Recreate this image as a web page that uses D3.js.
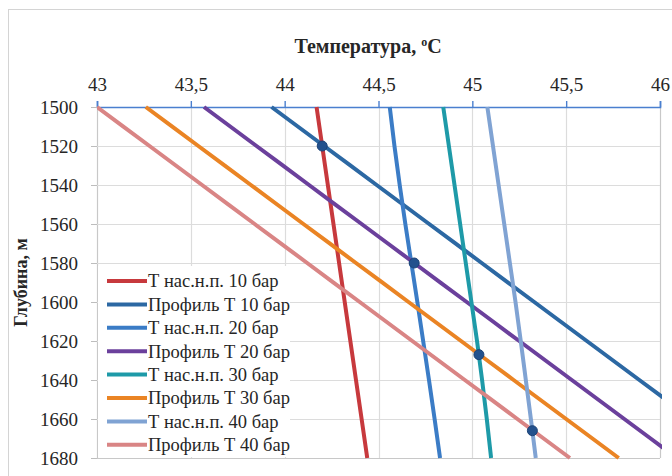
<!DOCTYPE html>
<html>
<head>
<meta charset="utf-8">
<script src="https://cdn.jsdelivr.net/npm/d3@7"></script>
<style>
  html, body { margin: 0; padding: 0; background: #fff; }
  svg { display: block; }
  svg text { font-family: "Liberation Serif", "Times New Roman", Times, "DejaVu Serif", serif; fill: #262626; }
</style>
</head>
<body>
<svg id="chart" width="672" height="476"></svg>
<script>
// Depth stations, m
const depths = [1500, 1520, 1540, 1560, 1580, 1600, 1620, 1640, 1660, 1680];

// Saturation temperature (Т нас.н.п.) for each pressure, °C
const tSat10 = [44.17, 44.20, 44.23, 44.26, 44.29, 44.32, 44.35, 44.38, 44.41, 44.44];
const tSat20 = [44.560, 44.585, 44.613, 44.643, 44.675, 44.707, 44.738, 44.769, 44.799, 44.828];
const tSat30 = [44.845, 44.875, 44.905, 44.935, 44.965, 44.995, 45.025, 45.052, 45.077, 45.100];
const tSat40 = [45.080, 45.110, 45.140, 45.170, 45.200, 45.230, 45.258, 45.285, 45.312, 45.338];

// Temperature profiles for each pressure, °C
const prof10 = [43.93, 44.21, 44.49, 44.77, 45.05, 45.33, 45.61, 45.89, 46.17, 46.45];
const prof20 = [43.57, 43.85, 44.13, 44.41, 44.69, 44.97, 45.25, 45.53, 45.81, 46.09];
const prof30 = [43.26, 43.54, 43.82, 44.10, 44.38, 44.66, 44.94, 45.22, 45.50, 45.78];
const prof40 = [43.00, 43.28, 43.56, 43.84, 44.12, 44.40, 44.68, 44.96, 45.24, 45.52];

// Intersection points of profiles with saturation curves
const crossT = [44.20, 44.69, 45.035, 45.32];
const crossD = [1520, 1580, 1627, 1666];

const seriesNames = [
  "Т нас.н.п. 10 бар", "Профиль Т 10 бар",
  "Т нас.н.п. 20 бар", "Профиль Т 20 бар",
  "Т нас.н.п. 30 бар", "Профиль Т 30 бар",
  "Т нас.н.п. 40 бар", "Профиль Т 40 бар"
];
const seriesColors = [
  "#c7393d", "#2c68a3",
  "#3b7cc6", "#6b409c",
  "#1e9aa8", "#ea8424",
  "#80a3d3", "#d98585"
];
const seriesValues = [tSat10, prof10, tSat20, prof20, tSat30, prof30, tSat40, prof40];

const xTicks = [43, 43.5, 44, 44.5, 45, 45.5, 46];
const yTicks = depths;

const serif = '"Liberation Serif", "Times New Roman", Times, "DejaVu Serif", serif';

const svg = d3.select("#chart");
const m = { left: 97, right: 660, top: 107, bottom: 458 };

const x = d3.scaleLinear().domain([43, 46]).range([m.left, m.right]);
const y = d3.scaleLinear().domain([1500, 1680]).range([m.top, m.bottom]);

// Outer chart frame
svg.append("rect")
  .attr("x", 8.5).attr("y", 9.5).attr("width", 700).attr("height", 500)
  .attr("fill", "#fff").attr("stroke", "#d4d4d4").attr("stroke-width", 1);

// Gridlines
const grid = svg.append("g");
grid.selectAll(".gx").data(xTicks).join("line")
  .attr("x1", d => Math.round(x(d)) + 0.5).attr("x2", d => Math.round(x(d)) + 0.5)
  .attr("y1", m.top).attr("y2", m.bottom)
  .attr("stroke", d => (d === 43 || d === 46) ? "#c8c8c8" : "#dcdcdc").attr("stroke-width", 1.2);
grid.selectAll(".gy").data(yTicks).join("line")
  .attr("x1", m.left).attr("x2", m.right)
  .attr("y1", d => Math.round(y(d)) + 0.5).attr("y2", d => Math.round(y(d)) + 0.5)
  .attr("stroke", d => d === 1680 ? "#c8c8c8" : "#dcdcdc").attr("stroke-width", 1.2);

// Axes
const fmt = d => String(d).replace(".", ",");
const xAxis = svg.append("g")
  .attr("transform", `translate(0,${m.top})`)
  .call(d3.axisTop(x).tickValues(xTicks).tickFormat(fmt).tickSize(6).tickPadding(10));
xAxis.attr("font-family", null).attr("font-size", null);
xAxis.select(".domain").attr("stroke", "#4a7fcf").attr("stroke-width", 1.6);
xAxis.selectAll(".tick line").attr("stroke", "#4a7fcf").attr("stroke-width", 1.4);
xAxis.selectAll(".tick text")
  .style("font-family", serif).attr("font-size", 19).attr("fill", "#262626");

const yAxis = svg.append("g")
  .attr("transform", `translate(${m.left},0)`)
  .call(d3.axisLeft(y).tickValues(yTicks).tickFormat(d3.format("d")).tickSize(6).tickPadding(13));
yAxis.attr("font-family", null).attr("font-size", null);
yAxis.select(".domain").remove();
yAxis.selectAll(".tick line").attr("stroke", "#bdbdbd");
yAxis.selectAll(".tick text")
  .style("font-family", serif).attr("font-size", 19).attr("fill", "#262626");

// Axis titles
const title = svg.append("text")
  .attr("x", 368).attr("y", 53).attr("text-anchor", "middle")
  .style("font-family", serif)
  .attr("font-size", 20).attr("font-weight", "bold");
title.append("tspan").text("Температура, ");
title.append("tspan").attr("font-size", 12).attr("dy", -7).text("o");
title.append("tspan").attr("dy", 7).text("C");

svg.append("text")
  .attr("transform", `translate(27,${(m.top + m.bottom) / 2}) rotate(-90)`)
  .attr("text-anchor", "middle")
  .style("font-family", serif)
  .attr("font-size", 18).attr("font-weight", "bold")
  .text("Глубина, м");

// Data lines clipped to the plot area
svg.append("clipPath").attr("id", "plotClip")
  .append("rect").attr("x", m.left).attr("y", m.top - 2)
  .attr("width", m.right - m.left + 2).attr("height", m.bottom - m.top + 4);

const line = d3.line()
  .x(d => x(d[0])).y(d => y(d[1]))
  .curve(d3.curveMonotoneY);

const plot = svg.append("g").attr("clip-path", "url(#plotClip)");

seriesValues.forEach((vals, i) => {
  plot.append("path")
    .datum(vals.map((v, k) => [v, depths[k]]))
    .attr("d", line)
    .attr("fill", "none")
    .attr("stroke", seriesColors[i])
    .attr("stroke-width", 4)
    .attr("stroke-linecap", "butt");
});

// Intersection markers
plot.selectAll(".cross").data(crossT).join("circle")
  .attr("cx", d => x(d))
  .attr("cy", (d, i) => y(crossD[i]))
  .attr("r", 5)
  .attr("fill", "#23518d")
  .attr("stroke", "#1c4377").attr("stroke-width", 1);

// Legend panel
const legend = svg.append("g");
legend.append("rect")
  .attr("x", m.left + 1).attr("y", 266).attr("width", 192).attr("height", 191)
  .attr("fill", "#fff");
const rowH = 23.4;
const lg = legend.selectAll(".item").data(seriesNames).join("g")
  .attr("transform", (d, i) => `translate(107,${281 + i * rowH})`);
lg.append("line")
  .attr("x1", 0).attr("x2", 40).attr("y1", 0).attr("y2", 0)
  .attr("stroke", (d, i) => seriesColors[i]).attr("stroke-width", 4);
lg.append("text")
  .attr("x", 41).attr("y", 0).attr("dy", "0.35em")
  .style("font-family", serif)
  .attr("font-size", 18.5).attr("fill", "#262626")
  .text(d => d);
</script>
</body>
</html>
